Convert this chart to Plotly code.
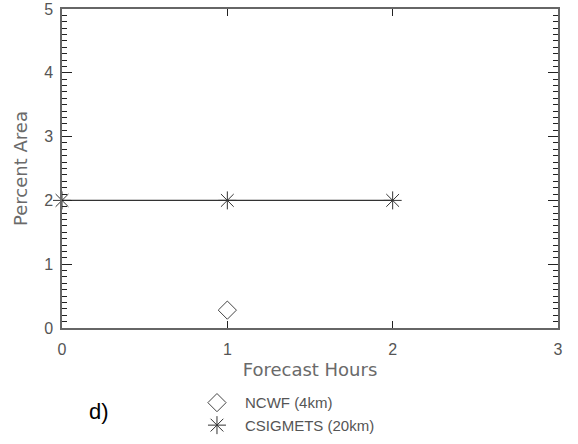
import plotly.graph_objects as go

# Data
ncwf_hours = [1]
ncwf_area = [0.28]
csig_hours = [0, 1, 2]
csig_area = [2, 2, 2]
x_ticks = [0, 1, 2, 3]
y_ticks = [0, 1, 2, 3, 4, 5]

font_fam = "Liberation Sans, Arial, sans-serif"
title_fam = "DejaVu Sans, Liberation Sans, sans-serif"
txt_col = "#555555"
title_col = "#6a6a6a"

fig = go.Figure()
fig.add_trace(go.Scatter(
    x=csig_hours, y=csig_area, mode="lines",
    line=dict(color="#333333", width=1.2),
    showlegend=False, cliponaxis=False, hoverinfo="skip"))
fig.add_trace(go.Scatter(
    x=ncwf_hours, y=ncwf_area, mode="markers", name="NCWF (4km)",
    marker=dict(symbol="diamond-open", size=14, color="#444444",
                line=dict(width=1, color="#444444")),
    cliponaxis=False))
fig.add_trace(go.Scatter(
    x=csig_hours, y=csig_area, mode="markers", name="CSIGMETS (20km)",
    marker=dict(symbol="asterisk-open", size=15, color="#333333",
                line=dict(width=1, color="#333333")),
    cliponaxis=False))

fig.update_layout(
    width=578, height=444,
    margin=dict(l=62, r=20, t=9, b=116, autoexpand=False),
    paper_bgcolor="white", plot_bgcolor="white",
    font=dict(family=font_fam, size=14, color=txt_col),
    showlegend=True,
    legend=dict(x=0.256, y=-0.183, xanchor="left", yanchor="top",
                font=dict(family=font_fam, size=15, color=txt_col),
                bgcolor="rgba(0,0,0,0)", tracegroupgap=0,
                itemwidth=46),
    xaxis=dict(range=[0, 3], tickvals=x_ticks, ticktext=[str(v) for v in x_ticks],
               ticks="inside", ticklen=7, tickwidth=1, tickcolor="#222222",
               showline=True, linecolor="#666666", linewidth=1.5, mirror="ticks",
               showgrid=False, zeroline=False, automargin=False,
               ticklabelstandoff=6,
               title=dict(text="Forecast Hours", font=dict(family=title_fam, size=18, color=title_col), standoff=6),
               tickfont=dict(size=16, color=txt_col)),
    yaxis=dict(range=[0, 5], tickvals=y_ticks, ticktext=[str(v) for v in y_ticks],
               ticks="inside", ticklen=10, tickwidth=1, tickcolor="#222222",
               minor=dict(dtick=0.1, ticks="inside", ticklen=5, tickwidth=1, tickcolor="#222222", showgrid=False),
               showline=True, linecolor="#666666", linewidth=1.5, mirror="ticks",
               showgrid=False, zeroline=False, automargin=False,
               ticklabelstandoff=4,
               title=dict(text="Percent Area", font=dict(family=title_fam, size=18, color=title_col), standoff=12),
               tickfont=dict(size=16, color=txt_col)),
    annotations=[dict(text="d)", xref="paper", yref="paper", x=0.05, y=-0.263,
                      xanchor="left", yanchor="middle", showarrow=False,
                      font=dict(family="Liberation Sans, Arial, sans-serif", size=22, color="black"))],
)

fig.write_html("out.html", config={"displayModeBar": False},
               post_script="document.body.style.margin='0';")
